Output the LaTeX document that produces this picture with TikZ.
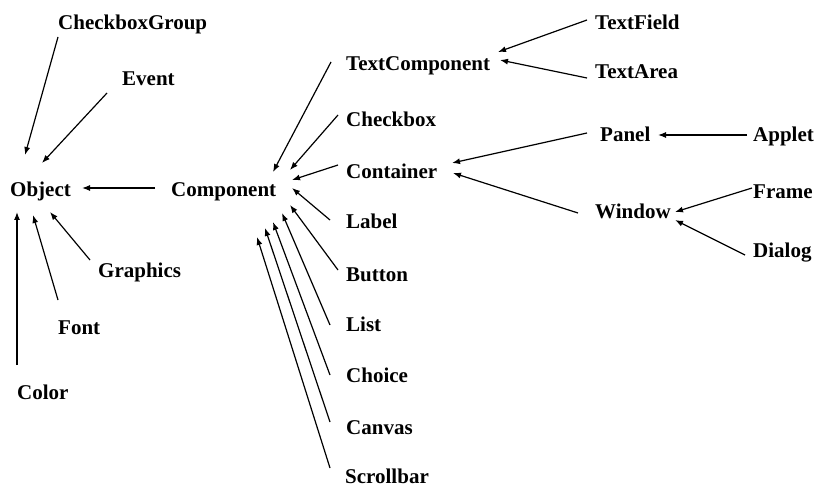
\documentclass[tikz,border=0pt]{standalone}
\usepackage{fontspec}
\setmainfont{Liberation Serif}
\usetikzlibrary{arrows.meta}
\begin{document}
\begin{tikzpicture}[x=1pt,y=-1pt,
  lbl/.style={anchor=base west,inner sep=0pt,font=\bfseries\fontsize{21}{25}\selectfont},
  inh/.style={-{Latex[length=8pt,width=6pt]},line width=1.2pt}]
\useasboundingbox (0,0) rectangle (824,486);
% nodes
\node[lbl] (cbg) at (58,30) {CheckboxGroup};
\node[lbl] (event) at (122,86) {Event};
\node[lbl] (obj) at (10,197) {Object};
\node[lbl] (comp) at (171,197) {Component};
\node[lbl] (graphics) at (98,277) {Graphics};
\node[lbl] (font) at (58,334) {Font};
\node[lbl] (color) at (17,399) {Color};
\node[lbl] (textcomp) at (346,71) {TextComponent};
\node[lbl] (textfield) at (595,30) {TextField};
\node[lbl] (textarea) at (595,79) {TextArea};
\node[lbl] (checkbox) at (346,127) {Checkbox};
\node[lbl] (container) at (346,179) {Container};
\node[lbl] (label) at (346,229) {Label};
\node[lbl] (button) at (346,281) {Button};
\node[lbl] (list) at (346,331) {List};
\node[lbl] (choice) at (346,382) {Choice};
\node[lbl] (canvas) at (346,434) {Canvas};
\node[lbl] (scrollbar) at (345,483) {Scrollbar};
\node[lbl] (panel) at (600,142) {Panel};
\node[lbl] (applet) at (753,142) {Applet};
\node[lbl] (frame) at (753,199) {Frame};
\node[lbl] (window) at (595,219) {Window};
\node[lbl] (dialog) at (753,258) {Dialog};
% connectors
\draw[inh] ([shift={(0,7)}]cbg.base west) -- ([shift={(15,-42)}]obj.base west);
\draw[inh] ([shift={(-15,7)}]event.base west) -- ([shift={(32,-34)}]obj.base west);
\draw[inh] ([shift={(-16,-9)}]comp.base west) -- ([shift={(72,-9)}]obj.base west);
\draw[inh] ([shift={(-8,-17)}]graphics.base west) -- ([shift={(40,15)}]obj.base west);
\draw[inh] ([shift={(0,-34)}]font.base west) -- ([shift={(23,18)}]obj.base west);
\draw[inh] ([shift={(0,-34)}]color.base west) -- ([shift={(7,15)}]obj.base west);
\draw[inh] ([shift={(-15,-9)}]textcomp.base west) -- ([shift={(102,-25)}]comp.base west);
\draw[inh] ([shift={(-8,-12)}]checkbox.base west) -- ([shift={(119,-27)}]comp.base west);
\draw[inh] ([shift={(-8,-14)}]container.base west) -- ([shift={(121,-17)}]comp.base west);
\draw[inh] ([shift={(-16,-9)}]label.base west) -- ([shift={(121,-9)}]comp.base west);
\draw[inh] ([shift={(-8,-11)}]button.base west) -- ([shift={(119,8)}]comp.base west);
\draw[inh] ([shift={(-16,-6)}]list.base west) -- ([shift={(111,16)}]comp.base west);
\draw[inh] ([shift={(-16,-7)}]choice.base west) -- ([shift={(102,25)}]comp.base west);
\draw[inh] ([shift={(-16,-12)}]canvas.base west) -- ([shift={(94,31)}]comp.base west);
\draw[inh] ([shift={(-15,-15)}]scrollbar.base west) -- ([shift={(86,40)}]comp.base west);
\draw[inh] ([shift={(-8,-10)}]textfield.base west) -- ([shift={(152,-19)}]textcomp.base west);
\draw[inh] ([shift={(-8,-1)}]textarea.base west) -- ([shift={(154,-11)}]textcomp.base west);
\draw[inh] ([shift={(-13,-9)}]panel.base west) -- ([shift={(106,-16)}]container.base west);
\draw[inh] ([shift={(-17,-6)}]window.base west) -- ([shift={(107,-6)}]container.base west);
\draw[inh] ([shift={(-6,-7)}]applet.base west) -- ([shift={(58,-7)}]panel.base west);
\draw[inh] ([shift={(-1,-11)}]frame.base west) -- ([shift={(80,-7)}]window.base west);
\draw[inh] ([shift={(-8,-3)}]dialog.base west) -- ([shift={(80,1)}]window.base west);
\end{tikzpicture}
\end{document}
